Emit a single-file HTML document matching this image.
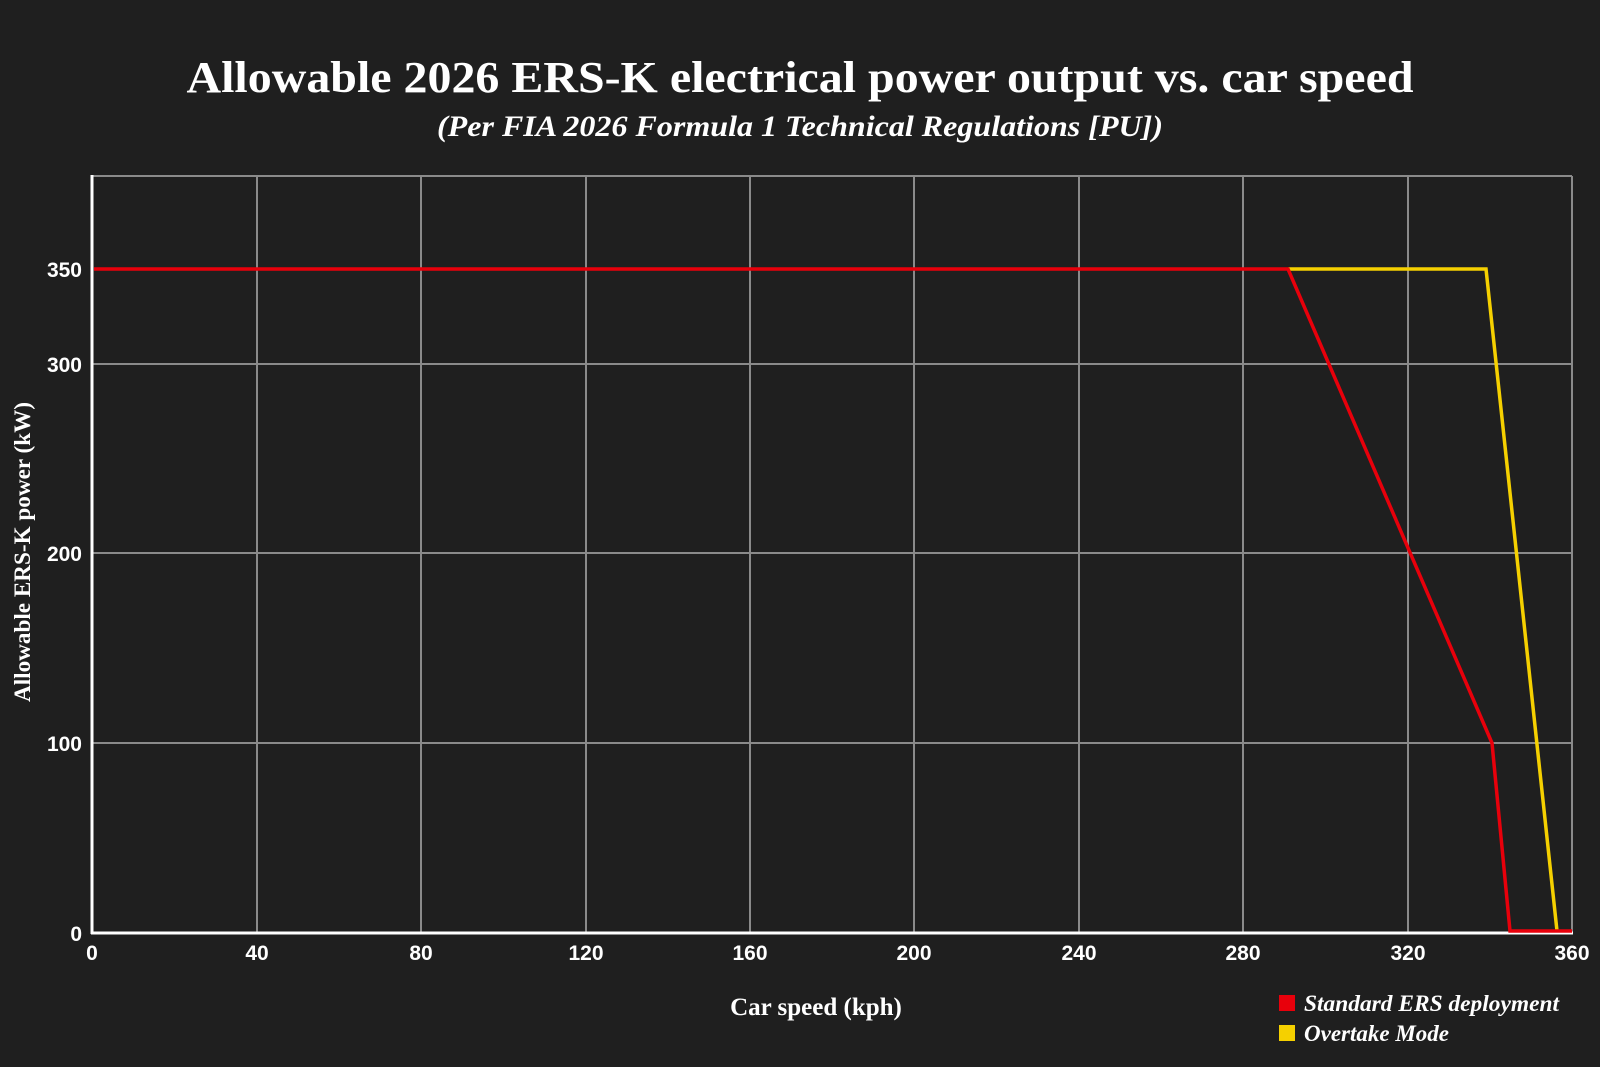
<!DOCTYPE html>
<html><head><meta charset="utf-8"><style>
html,body{margin:0;padding:0;background:#1f1f1f;}
svg{display:block}
</style></head><body>
<svg width="1600" height="1067" viewBox="0 0 1600 1067" xmlns="http://www.w3.org/2000/svg">
<rect width="1600" height="1067" fill="#1f1f1f"/>
<text x="800" y="92" text-anchor="middle" font-family="Liberation Serif, serif" font-weight="bold" font-size="44" fill="#fff" textLength="1227" lengthAdjust="spacingAndGlyphs">Allowable 2026 ERS-K electrical power output vs. car speed</text>
<text x="800" y="136" text-anchor="middle" font-family="Liberation Serif, serif" font-weight="bold" font-style="italic" font-size="30" fill="#fff" textLength="726" lengthAdjust="spacingAndGlyphs">(Per FIA 2026 Formula 1 Technical Regulations [PU])</text>
<g stroke="#8a8a8a" stroke-width="2">
<line x1="92" y1="176" x2="1572" y2="176"/>
<line x1="92" y1="364" x2="1572" y2="364"/>
<line x1="92" y1="553" x2="1572" y2="553"/>
<line x1="92" y1="743" x2="1572" y2="743"/>
<line x1="257" y1="176" x2="257" y2="933"/>
<line x1="421" y1="176" x2="421" y2="933"/>
<line x1="586" y1="176" x2="586" y2="933"/>
<line x1="750" y1="176" x2="750" y2="933"/>
<line x1="914" y1="176" x2="914" y2="933"/>
<line x1="1079" y1="176" x2="1079" y2="933"/>
<line x1="1243" y1="176" x2="1243" y2="933"/>
<line x1="1408" y1="176" x2="1408" y2="933"/>
<line x1="1572" y1="176" x2="1572" y2="933"/>
</g>
<line x1="91" y1="933" x2="1573" y2="933" stroke="#fff" stroke-width="3"/>
<line x1="92" y1="175" x2="92" y2="934" stroke="#fff" stroke-width="3"/>
<polyline fill="none" stroke="#f5d000" stroke-width="3.5" points="1288,269 1486,269 1557,931"/>
<polyline fill="none" stroke="#e8000b" stroke-width="3.5" points="94,269 1288,269 1492,743 1510,931 1572,931"/>
<g font-family="Liberation Sans, sans-serif" font-weight="bold" font-size="21" fill="#fff" text-anchor="end">
<text x="82" y="277">350</text><text x="82" y="372">300</text><text x="82" y="561">200</text><text x="82" y="751">100</text><text x="82" y="941">0</text>
</g>
<g font-family="Liberation Sans, sans-serif" font-weight="bold" font-size="21" fill="#fff" text-anchor="middle">
<text x="92" y="960">0</text><text x="257" y="960">40</text><text x="421" y="960">80</text><text x="586" y="960">120</text><text x="750" y="960">160</text><text x="914" y="960">200</text><text x="1079" y="960">240</text><text x="1243" y="960">280</text><text x="1408" y="960">320</text><text x="1572" y="960">360</text>
</g>
<text x="816" y="1015" text-anchor="middle" font-family="Liberation Serif, serif" font-weight="bold" font-size="25" fill="#fff">Car speed (kph)</text>
<text transform="translate(30,552) rotate(-90)" text-anchor="middle" font-family="Liberation Serif, serif" font-weight="bold" font-size="23" fill="#fff" textLength="300" lengthAdjust="spacingAndGlyphs">Allowable ERS-K power (kW)</text>
<rect x="1279" y="995" width="16" height="16" fill="#e8000b"/>
<rect x="1279" y="1025" width="16" height="16" fill="#f5d000"/>
<g font-family="Liberation Serif, serif" font-weight="bold" font-style="italic" font-size="23" fill="#fff">
<text x="1304" y="1011" textLength="255" lengthAdjust="spacingAndGlyphs">Standard ERS deployment</text>
<text x="1304" y="1041">Overtake Mode</text>
</g>
</svg>
</body></html>
